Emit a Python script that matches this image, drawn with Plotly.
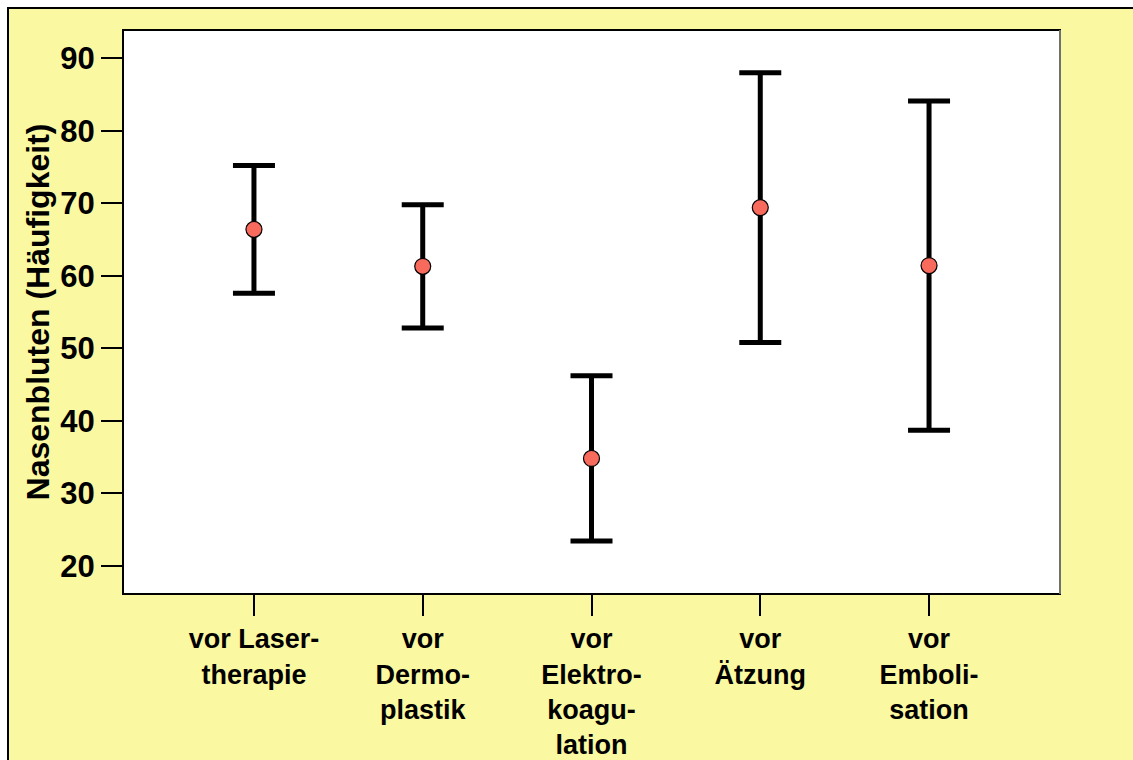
import plotly.graph_objects as go

# Groups and summary values (mean with symmetric interval half-width)
categories = [
    "vor Laser-<br>therapie",
    "vor<br>Dermo-<br>plastik",
    "vor<br>Elektro-<br>koagu-<br>lation",
    "vor<br>Ätzung",
    "vor<br>Emboli-<br>sation",
]
means = [66.4, 61.3, 34.8, 69.4, 61.4]
half_widths = [8.8, 8.5, 11.4, 18.6, 22.7]
y_ticks = [20, 30, 40, 50, 60, 70, 80, 90]

W, H = 1133, 760
ML, MR, MT, MB = 123, 73, 30, 166
PW, PH = W - ML - MR, H - MT - MB

YELLOW = "#FAF8A0"
FONT = "Liberation Sans, Arial, sans-serif"


def px_x(p):
    return (p - ML) / PW


def px_y(p):
    return (H - MB - p) / PH


fig = go.Figure()
fig.add_trace(
    go.Scatter(
        x=list(range(len(categories))),
        y=means,
        mode="markers",
        marker=dict(size=16, color="#F86A5C", line=dict(color="black", width=1.2)),
        error_y=dict(
            type="data",
            array=half_widths,
            symmetric=True,
            color="black",
            thickness=5,
            width=21,
        ),
        showlegend=False,
        hoverinfo="y",
    )
)

shapes = [
    # yellow page with a thin frame on the top and left edges
    dict(
        type="rect", xref="paper", yref="paper", layer="below",
        x0=px_x(8), x1=px_x(W + 40), y0=px_y(H + 40), y1=px_y(8),
        fillcolor=YELLOW, line=dict(color="black", width=2),
    ),
    # white plotting panel
    dict(
        type="rect", xref="paper", yref="paper", layer="below",
        x0=0, x1=1, y0=0, y1=1,
        fillcolor="white", line=dict(color="black", width=2),
    ),
    # grey right edge of the panel
    dict(
        type="line", xref="paper", yref="paper", layer="above",
        x0=1, x1=1, y0=0, y1=1,
        line=dict(color="#707070", width=2),
    ),
]

fig.update_layout(
    width=W,
    height=H,
    margin=dict(l=ML, r=MR, t=MT, b=MB, pad=0),
    paper_bgcolor="white",
    plot_bgcolor="white",
    shapes=shapes,
    font=dict(family=FONT, color="black"),
    xaxis=dict(
        range=[-0.776, 4.776],
        tickmode="array",
        tickvals=list(range(len(categories))),
        ticktext=categories,
        ticks="outside",
        ticklen=21,
        tickwidth=2,
        tickcolor="black",
        showgrid=False,
        zeroline=False,
        showline=False,
        automargin=False,
        tickfont=dict(family=FONT, size=27, color="black", weight="bold"),
    ),
    yaxis=dict(
        range=[16.1, 93.9],
        tickmode="array",
        tickvals=y_ticks,
        ticktext=[str(v) for v in y_ticks],
        ticks="outside",
        ticklen=21,
        tickwidth=2,
        tickcolor="black",
        showgrid=False,
        zeroline=False,
        showline=False,
        automargin=False,
        tickfont=dict(family=FONT, size=31, color="black", weight="bold"),
        title=dict(
            text="Nasenbluten (Häufigkeit)",
            font=dict(family=FONT, size=32, color="black", weight="bold"),
            standoff=1,
        ),
    ),
)

fig.write_html("out.html")
